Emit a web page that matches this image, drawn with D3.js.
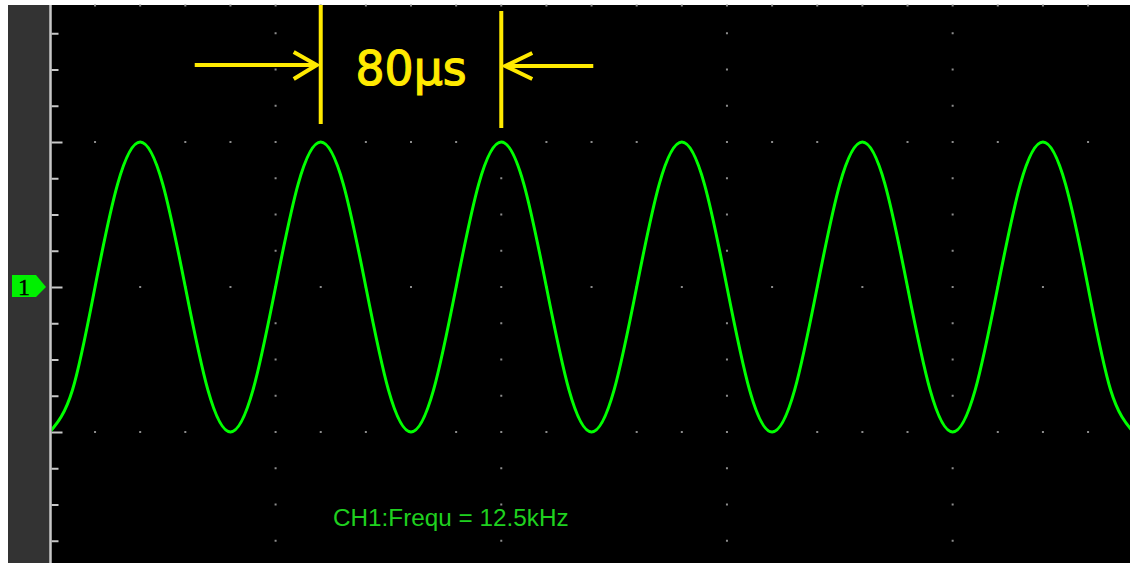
<!DOCTYPE html>
<html><head><meta charset="utf-8">
<script src="https://cdn.jsdelivr.net/npm/d3@7"></script>
<style>html,body{margin:0;padding:0;background:#fff;overflow:hidden}svg{display:block}</style>
</head><body><svg id="c" width="1130" height="563"></svg>
<script>
// ---- data ----
// CH1 trace: time in microseconds, amplitude in vertical divisions
const timeUs = [0,10,20,30,40,50,60,70,80,90,100,110,120,130,140,150,160,170,180,190,200,210,220,230,240,250,260,270,280,290,300,310,320,330,340,350,360,370,380,390,400,410,420,430,440,450,460,470,480];
const ch1Div = [-1,-0.71,0,0.71,1,0.71,0,-0.71,-1,-0.71,0,0.71,1,0.71,0,-0.71,-1,-0.71,0,0.71,1,0.71,0,-0.71,-1,-0.71,0,0.71,1,0.71,0,-0.71,-1,-0.71,0,0.71,1,0.71,0,-0.71,-1,-0.71,0,0.71,1,0.71,0,-0.71,-1];
// graticule
const minorTimeUs = [20,40,60,80,100,120,140,160,180,200,220,240,260,280,300,320,340,360,380,400,420,440,460];
const majorTimeUs = [100,200,300,400];
const majorDiv = [1,0,-1];
const minorDiv = [1.75,1.5,1.25,0.75,0.5,0.25,-0.25,-0.5,-0.75,-1.25,-1.5,-1.75];
// annotation
const markerTimesUs = [120,200];
const markerLabel = "80\u00b5s";
const freqLabel = "CH1:Frequ = 12.5kHz";
const channelLabel = "1";

// ---- layout ----
const W = 1130, H = 563, TOP = 5, AXIS_X = 50.5, PANEL_X = 8;
const svg = d3.select("#c");
const x = d3.scaleLinear().domain([0,480]).range([49.9,1133.2]);
const y = d3.scaleLinear().domain([-2,2]).range([577,-3]);

svg.append("rect").attr("width",W).attr("height",H).attr("fill","#fff");
svg.append("rect").attr("x",PANEL_X).attr("y",TOP).attr("width",AXIS_X-PANEL_X).attr("height",H-TOP).attr("fill","#333333");
svg.append("rect").attr("x",AXIS_X).attr("y",TOP).attr("width",W-AXIS_X).attr("height",H-TOP).attr("fill","#000");

// graticule dots
const dots = svg.append("g").attr("fill","#8c8c8c");
const rowYs = [TOP+0.5].concat(majorDiv.map(d=>y(d)));
rowYs.forEach(yy=>{
  minorTimeUs.forEach(t=>{
    dots.append("rect").attr("x",x(t)-1).attr("y",yy-1).attr("width",2).attr("height",2);
  });
});
majorTimeUs.forEach(t=>{
  minorDiv.forEach(v=>{
    dots.append("rect").attr("x",x(t)-1).attr("y",y(v)-1).attr("width",2).attr("height",2);
  });
});

// left axis with ticks
const axG = svg.append("g").attr("transform",`translate(${AXIS_X+1},0)`);
const minorAxis = d3.axisRight(y).tickValues(minorDiv).tickSize(7).tickFormat("");
const majorAxis = d3.axisRight(y).tickValues(majorDiv).tickSize(11).tickFormat("");
axG.append("g").call(minorAxis);
axG.append("g").call(majorAxis);
axG.selectAll(".domain").remove();
axG.selectAll(".tick line").attr("stroke","#c8c8c8").attr("stroke-width",2);
svg.append("line").attr("x1",AXIS_X).attr("x2",AXIS_X).attr("y1",TOP).attr("y2",H)
  .attr("stroke","#c8c8c8").attr("stroke-width",2.5);

// trace
svg.append("clipPath").attr("id","clip").append("rect")
  .attr("x",AXIS_X+1.5).attr("y",TOP).attr("width",W-AXIS_X).attr("height",H-TOP);
const line = d3.line().x((d,i)=>x(timeUs[i])).y(d=>y(d)).curve(d3.curveNatural);
svg.append("path").attr("clip-path","url(#clip)").attr("d",line(ch1Div))
  .attr("fill","none").attr("stroke","#00ff00").attr("stroke-width",3);

// channel marker
const y0 = y(0);
svg.append("path").attr("d",`M12,${y0-12}L36,${y0-12}L46,${y0}L36,${y0+10}L12,${y0+10}Z`).attr("fill","#00f000");
svg.append("text").attr("x",24).attr("y",y0+8).attr("text-anchor","middle")
  .attr("font-family","Liberation Serif").attr("font-size",24).attr("fill","#000")
  .attr("stroke","#000").attr("stroke-width",0.4).text(channelLabel);

// period annotation
const YEL = "#ffea00";
const ann = svg.append("g").attr("stroke",YEL).attr("stroke-width",4).attr("fill","none");
const xa = x(markerTimesUs[0]), xb = x(markerTimesUs[1]);
ann.append("line").attr("x1",xa).attr("x2",xa).attr("y1",TOP).attr("y2",124);
ann.append("line").attr("x1",xb).attr("x2",xb).attr("y1",11).attr("y2",128);
ann.append("line").attr("x1",xa-126).attr("x2",xa-4).attr("y1",65).attr("y2",65);
ann.append("polyline").attr("points",`${xa-27},52 ${xa-4},65 ${xa-27},79`);
ann.append("line").attr("x1",xb+92).attr("x2",xb+4).attr("y1",66).attr("y2",66);
ann.append("polyline").attr("points",`${xb+31},53 ${xb+4},66 ${xb+31},79`);
svg.append("text").attr("x",(xa+xb)/2).attr("y",85).attr("text-anchor","middle")
  .attr("font-family","DejaVu Sans").attr("font-size",48).attr("fill",YEL)
  .attr("stroke",YEL).attr("stroke-width",1.2)
  .attr("textLength",111).attr("lengthAdjust","spacingAndGlyphs").text(markerLabel);

// frequency readout
svg.append("text").attr("x",333).attr("y",526)
  .attr("font-family","Liberation Sans, Arial").attr("font-size",24.3).attr("fill","#1fd01f")
  .text(freqLabel);
</script></body></html>
